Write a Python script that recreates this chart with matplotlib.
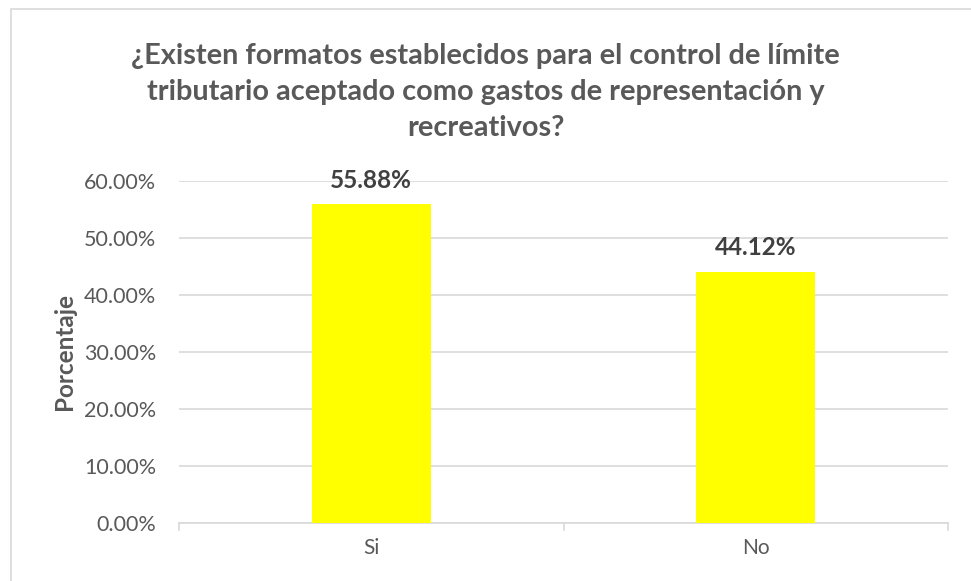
import matplotlib
matplotlib.use("Agg")
import matplotlib.pyplot as plt
from matplotlib.patches import Rectangle

categories = ["Si", "No"]
values = [55.88, 44.12]
labels = ["55.88%", "44.12%"]
yticks = [0, 10, 20, 30, 40, 50, 60]
ytick_labels = ["0.00%", "10.00%", "20.00%", "30.00%", "40.00%", "50.00%", "60.00%"]
title = "¿Existen formatos establecidos para el control de límite\ntributario aceptado como gastos de representación y\nrecreativos?"

plt.rcParams['font.family'] = ['Lato', 'DejaVu Sans']
gray = "#595959"

fig = plt.figure(figsize=(9.71, 5.81), dpi=100)
W, H = 971, 581
ax = fig.add_axes([179 / W, 1 - 523 / H, (948 - 179) / W, (523 - 181) / H])

x = range(len(categories))
ax.bar(x, values, width=0.31, color="#FFFF00", zorder=3)
ax.set_xlim(-0.5, 1.5)
ax.set_ylim(0, 60)
ax.set_yticks(yticks)
ax.set_yticklabels(ytick_labels, fontsize=15.5, color=gray)
ax.set_xticks(list(x))
ax.set_xticklabels(categories, fontsize=15, color=gray)
ax.tick_params(axis='y', length=0, pad=16.5)
ax.tick_params(axis='x', length=0, pad=11)
ax.yaxis.grid(True, color="#D9D9D9", linewidth=1.2, zorder=0)
for s in ["top", "right", "left"]:
    ax.spines[s].set_visible(False)
ax.spines["bottom"].set_color("#D9D9D9")
ax.spines["bottom"].set_linewidth(1.2)
for xt in [-0.5, 0.5, 1.5]:
    ax.plot([xt, xt], [0, -1.2], color="#D9D9D9", lw=1.2, clip_on=False, zorder=2)

for xi, v, lab in zip(x, values, labels):
    ax.annotate(lab, (xi, v), xytext=(0, 9), textcoords="offset points",
                ha="center", va="bottom", fontsize=17.5, fontweight="bold", color="#404040")

ax.set_ylabel("Porcentaje", fontsize=17.5, fontweight="bold", color=gray, labelpad=6)

fig.text(0.5, 1 - 92 / H, title, ha="center", va="center", fontsize=20.8,
         fontweight="bold", color=gray, linespacing=1.47)

fig.add_artist(Rectangle((11 / W, -0.01), 1.0, 1 - 9 / H + 0.01, transform=fig.transFigure,
                         fill=False, edgecolor="#D9D9D9", linewidth=1.2))

fig.savefig("out.png", dpi=100, facecolor="white")
